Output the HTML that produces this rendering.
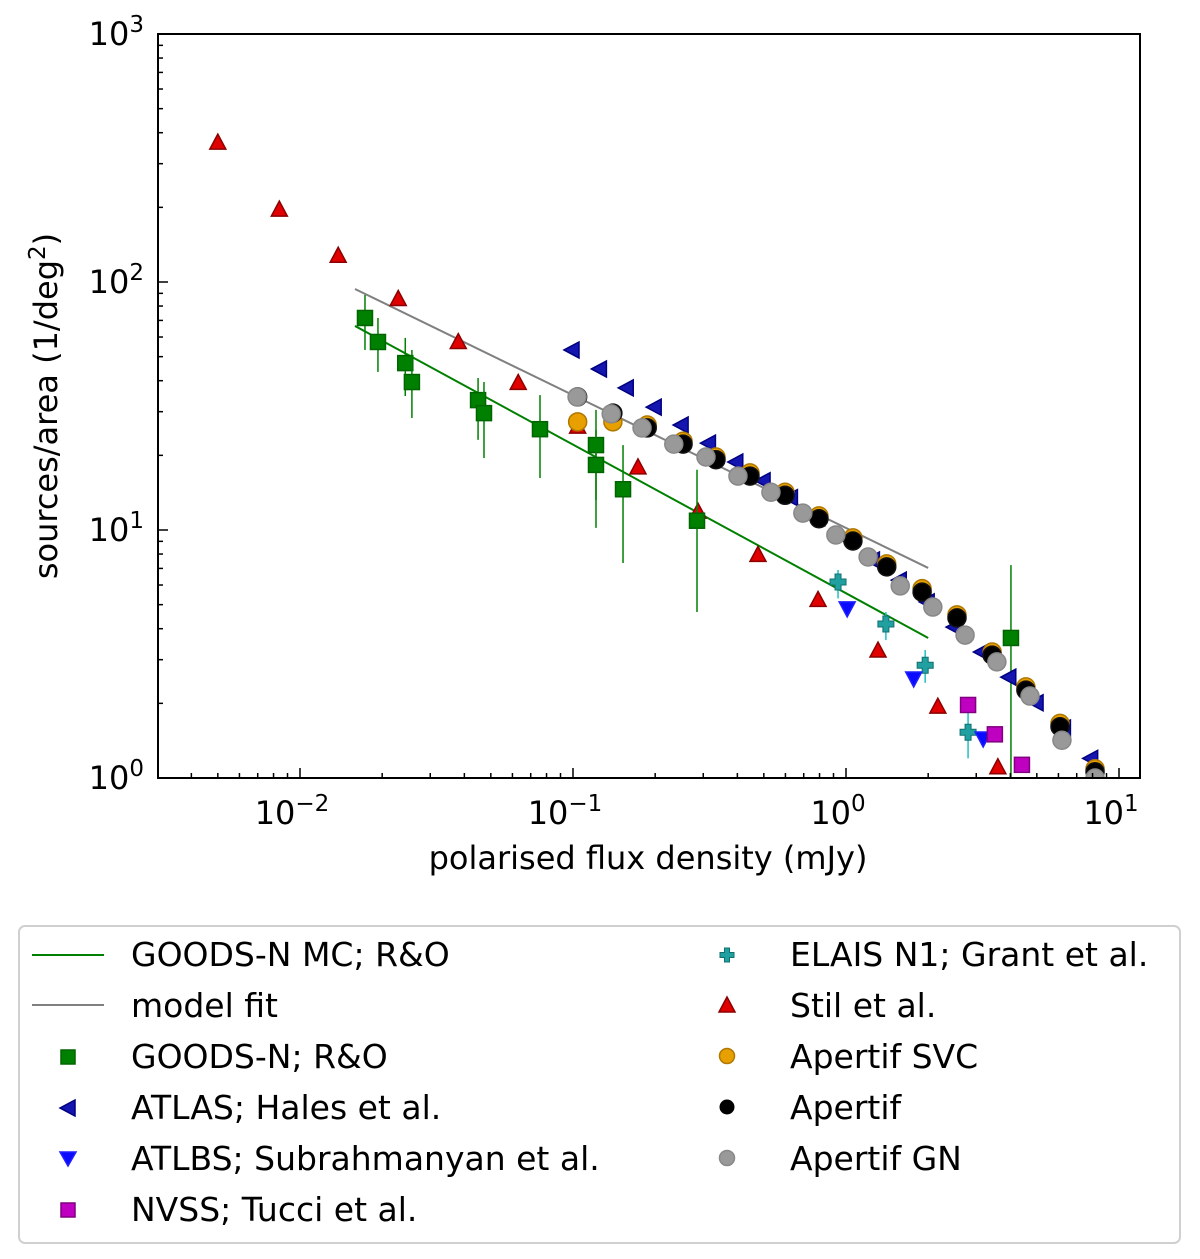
<!DOCTYPE html>
<html><head><meta charset="utf-8"><style>
body{margin:0;background:#fff;}
svg{display:block;font-family:"DejaVu Sans","Liberation Sans",sans-serif;}
</style></head><body>
<svg id="chart" width="1200" height="1259" viewBox="0 0 1200 1259" xmlns="http://www.w3.org/2000/svg">
<g id="plot"></g>
<g id="axes"></g>
<g id="legend"></g>
</svg>
<script>
// ---- data ----
const stilX=[0.005,0.0084,0.0138,0.0229,0.038,0.063,0.104,0.173,0.287,0.476,0.79,1.31,2.17,3.6];
const stilY=[363,195,127,85,57,39,26,17.8,11.8,7.9,5.2,3.25,1.93,1.1];
const goodsX=[0.0173,0.0193,0.0243,0.0257,0.0449,0.0472,0.0757,0.1214,0.1214,0.1525,0.2846,4.02];
const goodsY=[71.6,57.3,47.1,39.5,33.4,29.6,25.5,22.0,18.3,14.6,10.9,3.67];
const goodsHi=[88.7,71.6,59.5,53.2,41.0,39.5,35.0,30.5,25.3,22.0,17.5,7.22];
const goodsLo=[53.2,43.4,34.7,28.3,23.1,19.5,16.2,13.2,10.2,7.36,4.67,0.5];
const mcX=[0.0159,2.0];
const mcY=[66.5,3.67];
const fitX=[0.0159,2.0];
const fitY=[93.7,7.03];
const atlasX=[0.1,0.126,0.158,0.2,0.251,0.316,0.398,0.501,0.631,0.794,1,1.26,1.58,2,2.51,3.16,3.98,5.01,6.31,7.94];
const atlasY=[53.2,44.6,37.4,31.3,26.5,22.4,18.8,15.8,13.5,11.2,9.29,7.57,6.28,5.13,4.06,3.22,2.55,2.01,1.59,1.20];
const apX=[0.104,0.140,0.187,0.253,0.334,0.445,0.598,0.796,1.06,1.41,1.90,2.55,3.43,4.56,6.08,8.17];
const apY=[34.4,29.6,25.8,22.2,19.2,16.5,13.8,11.1,9.03,7.10,5.62,4.42,3.13,2.26,1.61,1.06];
const svcY=[27.3,27.3,26.5,22.8,19.7,17.0,14.2,11.4,9.3,7.3,5.8,4.55,3.22,2.33,1.66,1.09];
const gnX=[0.1035,0.138,0.179,0.234,0.307,0.402,0.531,0.695,0.918,1.205,1.58,2.08,2.73,3.57,4.72,6.18,8.17];
const gnY=[34.4,29.4,25.8,22.2,19.7,16.5,14.2,11.7,9.55,7.78,5.95,4.89,3.77,2.94,2.14,1.42,1.0];
const elaisX=[0.935,1.40,1.95,2.80];
const elaisY=[6.17,4.18,2.85,1.53];
const elaisHi=[6.9,4.67,3.28,1.93];
const elaisLo=[5.3,3.6,2.42,1.2];
const atlbsX=[1.01,1.77,3.18];
const atlbsY=[4.85,2.53,1.45];
const nvssX=[2.80,3.51,4.41];
const nvssY=[1.97,1.50,1.13];
const xTickExp=[-2,-1,0,1];
const yTickExp=[0,1,2,3];

// ---- axes ----
const L=158,R=1140,T=34,B=778;
const X0=846,XD=273,Y0=778,YD=248;
function sx(v){return X0+Math.log10(v)*XD;}
function sy(v){return Y0-Math.log10(v)*YD;}
const NS="http://www.w3.org/2000/svg";
function mk(tag,attrs,parent){const e=document.createElementNS(NS,tag);for(const k in attrs)e.setAttribute(k,attrs[k]);parent.appendChild(e);return e;}
const plot=document.getElementById('plot'),axes=document.getElementById('axes');
const cp=mk('clipPath',{id:'clip'},plot);
mk('rect',{x:L,y:T,width:R-L,height:B-T},cp);
const g=mk('g',{'clip-path':'url(#clip)'},plot);

function marker(type,cx,cy,fill,stroke,parent,s){
  s=s||8;let e;
  if(type==='sq') e=mk('rect',{x:cx-s,y:cy-s,width:2*s,height:2*s,fill:fill,stroke:stroke,'stroke-width':1.5},parent);
  else if(type==='circ') e=mk('circle',{cx:cx,cy:cy,r:s+1,fill:fill,stroke:stroke,'stroke-width':1.5},parent);
  else if(type==='up') e=mk('polygon',{points:`${cx},${cy-s-1} ${cx+s},${cy+s-2} ${cx-s},${cy+s-2}`,fill:fill,stroke:stroke,'stroke-width':1.5},parent);
  else if(type==='down') e=mk('polygon',{points:`${cx},${cy+s+1} ${cx+s},${cy-s+2} ${cx-s},${cy-s+2}`,fill:fill,stroke:stroke,'stroke-width':1.5},parent);
  else if(type==='left') e=mk('polygon',{points:`${cx-s-1},${cy} ${cx+s-2},${cy-s} ${cx+s-2},${cy+s}`,fill:fill,stroke:stroke,'stroke-width':1.5},parent);
  else if(type==='plus') e=mk('path',{d:`M${cx-3},${cy-8}h6v5h5v6h-5v5h-6v-5h-5v-6h5z`,fill:fill,stroke:stroke,'stroke-width':1},parent);
  return e;
}
const mcLine=mk('line',{x1:sx(mcX[0]),y1:sy(mcY[0]),x2:sx(mcX[1]),y2:sy(mcY[1]),stroke:'#008000','stroke-width':2},g);


const fitLine=mk('line',{x1:sx(fitX[0]),y1:sy(fitY[0]),x2:sx(fitX[1]),y2:sy(fitY[1]),stroke:'#808080','stroke-width':2},g);


stilX.forEach((v,i)=>{const e=marker('up',sx(v),sy(stilY[i]),'#e00000','#8b0000',g);

});
goodsX.forEach((v,i)=>{const l=mk('line',{x1:sx(v),x2:sx(v),y1:sy(goodsHi[i]),y2:sy(goodsLo[i]),stroke:'#008000','stroke-width':1.5},g);


const e=marker('sq',sx(v),sy(goodsY[i]),'#008000','#006400',g,7.5);

});
atlasX.forEach((v,i)=>{const e=marker('left',sx(v),sy(atlasY[i]),'#1515b0','#000080',g);

});
apX.forEach((v,i)=>{const e=marker('circ',sx(v),sy(svcY[i]),'#e8a000','#b07800',g);

});
apX.forEach((v,i)=>{const e=marker('circ',sx(v),sy(apY[i]),'#000','#111',g);

});
gnX.forEach((v,i)=>{const e=marker('circ',sx(v),sy(gnY[i]),'#999','#888',g);

});
elaisX.forEach((v,i)=>{const l=mk('line',{x1:sx(v),x2:sx(v),y1:sy(elaisHi[i]),y2:sy(elaisLo[i]),stroke:'#20c0c0','stroke-width':1.5},g);


const e=marker('plus',sx(v),sy(elaisY[i]),'#20a0a0','#107070',g);

});
atlbsX.forEach((v,i)=>{const e=marker('down',sx(v),sy(atlbsY[i]),'#0a0aff','#2020ff',g);

});
nvssX.forEach((v,i)=>{const e=marker('sq',sx(v),sy(nvssY[i]),'#c000c0','#800080',g,7.5);

});

mk('rect',{x:L,y:T,width:R-L,height:B-T,fill:'none',stroke:'#000','stroke-width':2},axes);
for(let d=-3;d<=1;d++){for(let m=1;m<10;m++){const px=X0+(d+Math.log10(m))*XD;if(px<L||px>R)continue;
 const len=m===1?10:5;mk('line',{x1:px,x2:px,y1:B,y2:B-len,stroke:'#000','stroke-width':1.5},axes);}}
xTickExp.forEach(e=>{const t=mk('text',{x:sx(Math.pow(10,e))-8,y:B+46,'font-size':32,'text-anchor':'middle'},axes);


t.textContent='10';const s=mk('tspan',{dy:-13,'font-size':23},t);s.textContent=e<0?'\u2212'+(-e):''+e;});
for(let d=0;d<3;d++){for(let m=1;m<10;m++){const py=Y0-(d+Math.log10(m))*YD;
 const len=m===1?10:5;mk('line',{x1:L,x2:L+len,y1:py,y2:py,stroke:'#000','stroke-width':1.5},axes);}}
yTickExp.forEach(e=>{const t=mk('text',{x:L-14,y:sy(Math.pow(10,e))+11,'font-size':32,'text-anchor':'end'},axes);


t.textContent='10';const s=mk('tspan',{dy:-13,'font-size':23},t);s.textContent=''+e;});
</script>
<svg style="position:absolute;left:0;top:0" width="1200" height="1259">
<text x="648" y="869" font-size="32" text-anchor="middle" font-family="DejaVu Sans, Liberation Sans, sans-serif">polarised flux density (mJy)</text>
<text transform="translate(57,406) rotate(-90)" font-size="32" text-anchor="middle" font-family="DejaVu Sans, Liberation Sans, sans-serif">sources/area (1/deg<tspan dy="-12" font-size="23">2</tspan><tspan dy="12">)</tspan></text>
<g font-family="DejaVu Sans, Liberation Sans, sans-serif" font-size="33">
<rect x="19" y="926" width="1161" height="317" rx="6" fill="#fff" stroke="#d0d0d0" stroke-width="2"/>
<g><line x1="32" x2="104" y1="955" y2="955" stroke="#008000" stroke-width="2"/><text x="131" y="966">GOODS-N MC; R&amp;O</text></g>
<g><line x1="32" x2="104" y1="1005" y2="1005" stroke="#808080" stroke-width="2"/><text x="131" y="1017">model fit</text></g>
<g><rect x="61" y="1050" width="14" height="14" fill="#008000" stroke="#006400" stroke-width="1.5"/><text x="131" y="1068">GOODS-N; R&amp;O</text></g>
<g><polygon points="60,1108 75,1100 75,1116" fill="#1515b0" stroke="#000080" stroke-width="1.5"/><text x="131" y="1119">ATLAS; Hales et al.</text></g>
<g><polygon points="68,1166 60,1152 76,1152" fill="#0a0aff" stroke="#2020ff" stroke-width="1.5"/><text x="131" y="1170">ATLBS; Subrahmanyan et al.</text></g>
<g><rect x="61" y="1203" width="14" height="14" fill="#c000c0" stroke="#800080" stroke-width="1.5"/><text x="131" y="1221">NVSS; Tucci et al.</text></g>
<g><path d="M724.5,948h5v4.5h4.5v5h-4.5v4.5h-5v-4.5h-4.5v-5h4.5z" fill="#20a0a0" stroke="#107070"/><text x="790" y="966">ELAIS N1; Grant et al.</text></g>
<g><polygon points="727,997 735,1012 719,1012" fill="#e00000" stroke="#8b0000" stroke-width="1.5"/><text x="790" y="1017">Stil et al.</text></g>
<g><circle cx="727" cy="1056" r="7.5" fill="#e8a000" stroke="#b07800" stroke-width="1.5"/><text x="790" y="1068">Apertif SVC</text></g>
<g><circle cx="727" cy="1107" r="7.5" fill="#000"/><text x="790" y="1119">Apertif</text></g>
<g><circle cx="727" cy="1158" r="7.5" fill="#999" stroke="#888" stroke-width="1.5"/><text x="790" y="1170">Apertif GN</text></g>
</g>
</svg>
</body></html>
